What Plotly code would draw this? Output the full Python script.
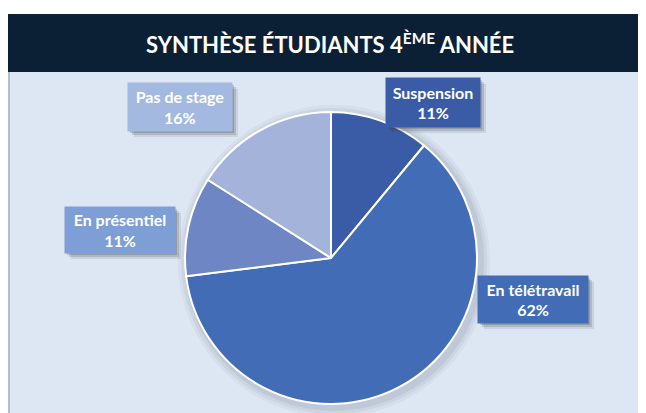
import plotly.graph_objects as go

categories = ["Suspension", "En télétravail", "En présentiel", "Pas de stage"]
values = [11, 62, 11, 16]
slice_colors = ["#3a5ca6", "#426db6", "#6f86c4", "#a3b3da"]
box_colors = ["#3a5ca6", "#426db6", "#7e9ed6", "#a4b9e0"]
title_text = "SYNTHÈSE ÉTUDIANTS 4<sup>ÈME</sup> ANNÉE"

W, H = 646, 413
OX, OY = 8, 8  # page offset of the figure in the browser
def px(x):
    return (x - OX) / W
def py(y):
    return 1 - (y - OY) / H

fig = go.Figure()
fig.add_trace(go.Pie(
    labels=categories, values=values, sort=False, direction="clockwise",
    rotation=0, textinfo="none", hoverinfo="label+percent",
    marker=dict(colors=slice_colors, line=dict(color="white", width=2)),
    domain=dict(x=[px(185), px(477)], y=[py(404), py(112)]),
    showlegend=False,
))

shapes = []
# panel background
shapes.append(dict(type="rect", xref="paper", yref="paper", x0=px(8), x1=1, y0=0, y1=py(72),
                   fillcolor="#dde6f3", line=dict(width=0), layer="below"))
shapes.append(dict(type="line", xref="paper", yref="paper", x0=px(9), x1=px(9), y0=0, y1=py(72),
                   line=dict(color="#b8bcc4", width=2), layer="below"))
# header
shapes.append(dict(type="rect", xref="paper", yref="paper", x0=px(8), x1=1, y0=py(72), y1=py(14),
                   fillcolor="#0c2035", line=dict(width=0), layer="below"))
# pie shadow
for off, op in [(10, 0.06), (7, 0.08), (4, 0.10)]:
    shapes.append(dict(type="circle", xref="paper", yref="paper",
                       x0=px(185 - off + 3), x1=px(477 + off + 3), y0=py(404 + off + 3), y1=py(112 - off + 3),
                       fillcolor="#5a6275", opacity=op, line=dict(width=0), layer="below"))

# label boxes (x0, y0, x1, y1 in page pixels)
boxes = [(386, 78, 480, 127), (478, 276, 588, 323), (65, 207, 175, 253), (128, 83, 232, 131)]
annotations = []
for i, (x0, y0, x1, y1) in enumerate(boxes):
    for off, op in [(6, 0.12), (4, 0.18), (2, 0.22)]:
        shapes.append(dict(type="rect", xref="paper", yref="paper",
                           x0=px(x0 + off), x1=px(x1 + off), y0=py(y1 + off), y1=py(y0 + off),
                           fillcolor="#3a3f4a", opacity=op, line=dict(width=0), layer="above"))
    pct = round(100 * values[i] / sum(values))
    annotations.append(dict(
        xref="paper", yref="paper", x=px((x0 + x1) / 2), y=py((y0 + y1) / 2),
        text=f"<b>{categories[i]}</b><br><b>{pct}%</b>", showarrow=False,
        font=dict(family="Lato", size=16, color="white"),
        bgcolor=box_colors[i], width=x1 - x0, height=y1 - y0, borderpad=0,
        xanchor="center", yanchor="middle", align="center",
    ))

annotations.append(dict(
    xref="paper", yref="paper", x=px(330), y=py(43), text=f"<b>{title_text}</b>",
    showarrow=False, font=dict(family="Lato", size=22, color="white"),
    xanchor="center", yanchor="middle",
))

fig.update_layout(
    width=W, height=H, margin=dict(l=0, r=0, t=0, b=0),
    paper_bgcolor="white", plot_bgcolor="white",
    shapes=shapes, annotations=annotations,
)
fig.write_html("out.html")
